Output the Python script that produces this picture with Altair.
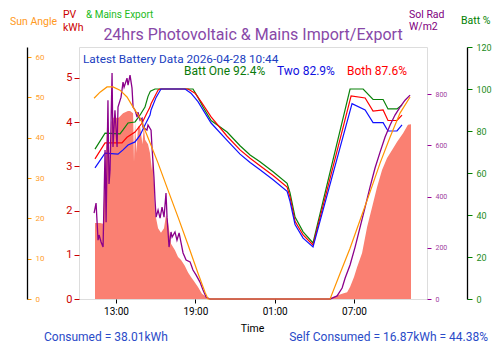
import altair as alt
import pandas as pd

# ---------------- data (hours since midnight of first day) ----------------
pv_hour = [11.41, 11.79, 12.02, 12.10, 12.17, 12.32, 12.39, 12.55, 12.65, 12.77, 13.20, 13.53, 13.90, 14.06, 14.29,
           14.36, 14.44, 14.55, 14.66, 14.82, 15.00, 15.10, 15.20, 15.42, 15.57, 15.72, 15.80, 15.95, 16.18, 16.40,
           16.63, 16.78, 16.93, 17.16, 17.46, 17.69, 17.92, 18.20, 18.45, 18.67, 18.90, 19.20, 19.50, 19.81, 20.11,
           24.00, 29.10, 29.19, 29.72, 30.10, 30.48, 30.70, 31.00, 31.23, 31.61, 31.99, 32.37, 32.74, 33.12, 33.50,
           33.88, 34.25, 34.71, 35.08, 35.31]
pv_kwh = [1.72, 1.72, 1.70, 2.30, 2.90, 3.90, 3.90, 2.85, 4.00, 4.10, 4.10, 4.20, 4.25, 4.25, 4.20,
          3.10, 4.00, 3.30, 3.90, 3.90, 3.50, 3.90, 3.60, 3.50, 3.30, 2.90, 3.20, 1.95, 1.60, 1.50,
          1.60, 1.90, 1.75, 1.25, 1.10, 0.95, 0.88, 0.75, 0.60, 0.50, 0.40, 0.27, 0.12, 0.05, 0.00,
          0.00, 0.00, 0.02, 0.08, 0.12, 0.15, 0.27, 0.50, 0.72, 1.04, 1.63, 2.08, 2.53, 2.92, 3.19,
          3.37, 3.55, 3.75, 3.94, 3.95]

sr_hour = [11.34, 11.49, 11.64, 11.72, 11.87, 12.02, 12.17, 12.25, 12.39, 12.47, 12.55, 12.70, 12.77, 12.92, 13.08,
           13.15, 13.38, 13.53, 13.61, 13.83, 13.91, 14.06, 14.21, 14.29, 14.44, 14.59, 14.66, 14.82, 14.97, 15.04,
           15.34, 15.42, 15.65, 15.72, 15.87, 15.95, 16.03, 16.18, 16.33, 16.48, 16.63, 16.78, 16.86, 17.01, 17.16,
           17.24, 17.46, 17.61, 17.77, 17.92, 18.07, 18.30, 18.60, 18.82, 19.05, 19.35, 19.58, 19.81, 20.11, 24.00,
           29.19, 29.72, 30.10, 30.33, 30.70, 31.08, 31.46, 31.84, 32.21, 32.59, 32.97, 33.35, 33.73, 34.10, 34.48,
           34.86, 35.24]
sr_wm2 = [336, 375, 230, 250, 223, 203, 582, 300, 777, 450, 504, 883, 594, 738, 594,
          750, 789, 848, 828, 863, 836, 875, 824, 750, 738, 711, 730, 699, 707, 672,
          660, 680, 660, 594, 477, 387, 320, 348, 316, 359, 320, 414, 320, 203, 262,
          242, 262, 230, 258, 219, 180, 152, 145, 113, 94, 66, 35, 8, 0, 0,
          0, 12, 43, 82, 133, 203, 281, 359, 437, 512, 574, 633, 680, 719, 750,
          777, 797]

sa_hour = [11.34, 11.79, 12.32, 12.77, 13.30, 13.83, 14.29, 14.82, 15.42, 16.18, 16.93, 17.69, 18.45, 19.20, 19.73,
           19.96, 24.00, 29.19, 29.95, 30.70, 31.46, 32.21, 32.97, 33.73, 34.48, 35.24]
sa_deg = [49.8, 51.3, 52.6, 52.6, 51.8, 50.1, 47.6, 44.9, 40.0, 33.7, 27.0, 20.3, 13.4, 6.4, 1.7,
          0.0, 0.0, 0.0, 6.4, 12.6, 19.6, 26.5, 33.7, 40.2, 46.1, 50.1]

b1_hour = [11.41, 12.17, 13.30, 13.53, 13.91, 14.44, 14.82, 15.19, 15.42, 15.60, 15.95, 18.82, 19.20, 19.58, 20.19,
           21.40, 22.38, 23.14, 23.89, 24.88, 25.94, 26.16, 26.54, 27.15, 27.90, 30.70, 31.69, 32.44, 33.20, 33.57,
           34.25, 34.63]
b1_pct = [71.4, 79.0, 78.6, 80.5, 83.8, 84.3, 87.6, 91.4, 96.5, 99.0, 100.0, 100.0, 96.0, 91.4, 85.0,
          79.5, 73.0, 68.6, 65.4, 60.6, 55.1, 50.5, 39.0, 32.0, 26.7, 100.0, 100.0, 95.0, 95.0, 90.5,
          90.5, 92.4]

b2_hour = [11.41, 12.17, 13.15, 13.53, 13.91, 14.44, 14.82, 15.19, 15.57, 15.65, 16.03, 16.40, 18.22, 18.67, 19.20,
           20.19, 21.40, 22.38, 23.14, 23.89, 24.88, 25.94, 26.16, 26.54, 27.15, 27.90, 30.85, 31.84, 32.44, 33.20,
           33.57, 34.25, 34.63]
b2_pct = [62.4, 69.5, 69.0, 71.0, 73.3, 74.8, 78.0, 82.9, 87.6, 90.0, 96.0, 100.0, 100.0, 98.0, 94.0,
          83.8, 75.5, 69.0, 65.0, 61.5, 56.8, 51.3, 46.5, 35.5, 29.0, 24.8, 93.0, 90.0, 84.0, 84.0,
          80.0, 80.0, 82.9]

b3_hour = [11.41, 12.17, 13.45, 13.83, 14.44, 14.97, 15.34, 15.57, 15.65, 16.18, 16.30, 18.45, 18.98, 19.43, 20.19,
           21.40, 22.38, 23.14, 23.89, 24.88, 25.94, 26.16, 26.54, 27.15, 27.90, 30.78, 31.84, 32.44, 33.20, 33.57,
           34.25, 34.63]
b3_pct = [66.7, 74.3, 74.3, 77.0, 79.5, 83.8, 88.6, 91.4, 93.0, 99.5, 100.0, 100.0, 98.0, 94.0, 86.7,
          77.5, 71.0, 67.0, 63.5, 58.8, 53.3, 48.5, 37.0, 30.5, 25.7, 96.7, 95.7, 89.5, 90.0, 85.0,
          85.0, 87.6]

x_ticks = [13, 19, 25, 31]

FONT = "Roboto"
W, H = 348, 252

pv_df = pd.DataFrame({"h": pv_hour, "v": pv_kwh})
sr_df = pd.DataFrame({"h": sr_hour, "v": sr_wm2})
sa_df = pd.DataFrame({"h": sa_hour, "v": sa_deg})
batt_df = pd.concat([
    pd.DataFrame({"h": b1_hour, "v": b1_pct, "s": "One"}),
    pd.DataFrame({"h": b3_hour, "v": b3_pct, "s": "Both"}),
    pd.DataFrame({"h": b2_hour, "v": b2_pct, "s": "Two"}),
])

X = alt.X("h:Q",
          scale=alt.Scale(domain=[10.2, 36.52], nice=False, zero=False),
          axis=alt.Axis(values=x_ticks, title=None, grid=False, domain=False,
                        labelExpr="(datum.value % 24 < 10 ? '0' : '') + (datum.value % 24) + ':00'",
                        tickColor="black", tickSize=4, labelColor="black", labelFontSize=10,
                        labelPadding=3, labelFont=FONT, labelOverlap=False))

area = alt.Chart(pv_df).mark_area(color="#FA8072", opacity=1, interpolate="linear").encode(
    x=X,
    y=alt.Y("v:Q", scale=alt.Scale(domain=[0, 5.7], nice=False),
            axis=alt.Axis(orient="left", values=[0, 1, 2, 3, 4, 5], title=None, grid=False, domain=False,
                          tickColor="#CC0000", tickSize=5, labelColor="#CC0000", labelFontSize=11,
                          labelPadding=2, labelFont=FONT, labelOverlap=False)))

batt = alt.Chart(batt_df).mark_line(strokeWidth=1.2).encode(
    x=X,
    y=alt.Y("v:Q", scale=alt.Scale(domain=[0, 120], nice=False),
            axis=alt.Axis(orient="right", offset=40, values=[0, 20, 40, 60, 80, 100, 120], title=None,
                          grid=False, domain=True, domainColor="black", domainWidth=1.3,
                          tickColor="#008000", tickSize=5, labelColor="#228B22", labelFontSize=9,
                          labelPadding=4, labelFont=FONT, labelOverlap=False)),
    color=alt.Color("s:N", scale=alt.Scale(domain=["One", "Both", "Two"],
                                           range=["#0A820A", "#FF0000", "#1010FF"]), legend=None),
    detail="s:N")

solrad = alt.Chart(sr_df).mark_line(color="#8B008B", strokeWidth=1.3).encode(
    x=X,
    y=alt.Y("v:Q", scale=alt.Scale(domain=[0, 985], nice=False),
            axis=alt.Axis(orient="right", offset=0, values=[0, 200, 400, 600, 800], title=None, grid=False,
                          domain=False, tickColor="#990099", tickSize=4, labelColor="#A040A0",
                          labelFontSize=7, labelPadding=4, labelFont=FONT, labelOverlap=False)))

sun = alt.Chart(sa_df).mark_line(color="#FF9500", strokeWidth=1.2).encode(
    x=X,
    y=alt.Y("v:Q", scale=alt.Scale(domain=[0, 62.5], nice=False),
            axis=alt.Axis(orient="right", offset=-400, values=[0, 10, 20, 30, 40, 50, 60], title=None,
                          grid=False, domain=True, domainColor="black", domainWidth=1.3,
                          tickColor="#FF9900", tickSize=4, labelColor="#FFA030", labelFontSize=8,
                          labelPadding=4, labelFont=FONT, labelOverlap=False)))


def label(text, px, py, color, size, align="left"):
    return alt.Chart(pd.DataFrame({"t": [text]})).mark_text(
        font=FONT, fontSize=size, color=color, align=align, baseline="alphabetic"
    ).encode(x=alt.value(px), y=alt.value(py), text="t:N")


texts = [
    label("24hrs Photovoltaic & Mains Import/Export", 174, -7.5, "#8848A8", 16, "center"),
    label("Sun Angle", -69, -22, "#FF9922", 10.5),
    label("PV", -16, -29, "#CC0000", 10.5),
    label("kWh", -16, -16.5, "#CC0000", 10.5),
    label("& Mains Export", 7, -29, "#22BB22", 10),
    label("Sol Rad", 330, -28.7, "#800080", 10.5),
    label("W/m2", 330, -17, "#800080", 10.5),
    label("Batt %", 382, -23, "#008000", 10.5),
    label("Latest Battery Data 2026-04-28 10:44", 4, 15.5, "#2040C0", 11.8),
    label("Batt One 92.4%", 105, 27.8, "#0A7A0A", 12),
    label("Two 82.9%", 198, 27.8, "#1010E0", 12),
    label("Both 87.6%", 268, 27.8, "#FF0000", 12),
    label("Time", 173.5, 285, "black", 10.5, "center"),
    label("Consumed = 38.01kWh", -35, 293.5, "#2A4BC8", 12),
    label("Self Consumed = 16.87kWh  = 44.38%", 409, 293.5, "#2A4BC8", 12, "right"),
]

chart = alt.layer(area, batt, solrad, sun, *texts).resolve_scale(
    y="independent", color="independent"
).properties(
    width=W, height=H,
    autosize=alt.AutoSizeParams(type="none"),
    padding={"left": 79, "top": 47, "right": 73, "bottom": 54},
    background="white",
).configure_view(stroke="black", strokeWidth=1.3).configure(font=FONT)

chart.save("out.html", embed_options={"renderer": "svg", "actions": False})
